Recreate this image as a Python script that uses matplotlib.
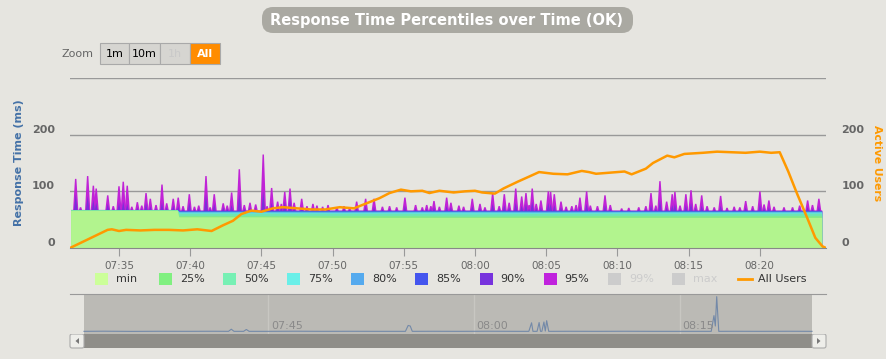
import matplotlib
matplotlib.use('Agg')
import matplotlib.pyplot as plt
from matplotlib.patches import FancyBboxPatch, Rectangle, Polygon
from matplotlib.transforms import ScaledTranslation

W, H = 887, 359
BG = '#e6e5e0'

# time axis: minutes after 07:00
t_start, t_end = 31.56, 84.65
tick_min = [35, 40, 45, 50, 55, 60, 65, 70, 75, 80]
tick_lbl = ['07:35', '07:40', '07:45', '07:50', '07:55',
            '08:00', '08:05', '08:10', '08:15', '08:20']

# percentile bands (ms)
pct_t = [31.60, 39.10, 39.20, 45.0, 50.0, 55.0, 60.0, 65.0, 70.0, 75.0, 80.0, 84.35]
p_min = [66.5, 66.5, 55, 55, 54, 54, 54, 54, 54, 54, 54, 54]
p_25 = [67, 67, 57, 57, 57, 57, 56, 57, 57, 57, 57, 57]
p_50 = [67, 67, 61, 61, 61, 61, 60, 61, 61, 61, 61, 61]
p_75 = [67.5, 67.5, 63.5, 63.5, 63, 63.5, 63.5, 63, 63.5, 63.5, 63.5, 63.5]
p_80 = [67.5, 67.5, 65, 65, 65, 65, 65, 65, 65, 65, 65, 65]
p_85 = [68, 68, 66, 66, 66, 66, 66, 66, 66, 66, 66, 66]
p_90 = [68, 68, 66.5, 66.5, 66.5, 66.5, 66.5, 66.5, 66.5, 66.5, 66.5, 66.5]
p_95 = [68, 68, 67, 67, 67, 67, 67, 67, 67, 67, 67, 67]

# spikes of the 95% / 90% series
spike_t = [31.96, 32.30, 32.80, 33.20, 33.40, 34.21, 34.60, 35.00, 35.30, 35.58,
           35.90, 36.29, 36.60, 36.90, 37.20, 37.60, 38.02, 38.35, 38.81, 39.16,
           39.50, 39.94, 40.30, 40.60, 41.11, 41.40, 41.69, 42.32, 42.60, 42.91,
           43.45, 43.80, 44.20, 44.60, 45.13, 45.40, 45.72, 46.14, 46.40, 46.64,
           47.01, 47.30, 47.83, 48.20, 48.62, 48.90, 49.30, 49.68, 50.30, 50.80,
           51.20, 51.69, 52.32, 52.91, 53.50, 54.00, 54.50, 55.08, 55.83, 56.30,
           56.61, 56.90, 57.12, 57.50, 58.01, 58.31, 58.87, 59.20, 59.81, 60.35,
           60.70, 61.24, 61.70, 62.06, 62.40, 62.86, 63.28, 63.58, 63.80, 64.02,
           64.30, 64.63, 65.15, 65.31, 65.57, 66.04, 66.40, 66.80, 67.10, 67.37,
           67.84, 68.10, 68.60, 69.13, 69.50, 70.30, 70.80, 71.50, 72.00, 72.36,
           72.70, 72.99, 73.46, 73.85, 74.04, 74.40, 74.81, 75.17, 75.50, 75.92,
           76.30, 76.80, 77.25, 77.70, 78.20, 78.60, 79.01, 79.50, 80.01, 80.30,
           80.64, 81.00, 81.70, 82.30, 82.80, 83.36, 83.70, 84.15]
spike_95 = [122, 72, 127, 110, 105, 93, 74, 109, 117, 110,
            73, 81, 75, 97, 87, 76, 112, 79, 87, 89,
            74, 95, 73, 75, 127, 72, 95, 79, 75, 98,
            139, 76, 80, 77, 165, 74, 106, 82, 78, 99,
            105, 80, 87, 74, 78, 75, 73, 76, 72, 74,
            71, 82, 87, 87, 73, 74, 72, 89, 76, 72,
            76, 74, 83, 73, 89, 80, 75, 73, 87, 78,
            72, 97, 74, 95, 80, 105, 91, 97, 76, 105,
            78, 84, 100, 99, 95, 82, 73, 74, 76, 89,
            100, 75, 74, 93, 76, 70, 71, 72, 74, 97,
            75, 118, 82, 95, 99, 75, 95, 102, 78, 93,
            74, 72, 92, 71, 73, 72, 83, 74, 100, 77,
            84, 73, 72, 72, 75, 84, 76, 87]
spike_90 = [95, 69, 92, 85, 80, 78, 70, 80, 82, 78,
            69, 72, 70, 80, 74, 70, 80, 72, 75, 74,
            70, 80, 69, 70, 95, 69, 78, 72, 70, 76,
            96, 70, 72, 71, 100, 70, 80, 75, 72, 82,
            88, 72, 74, 70, 71, 70, 69, 71, 69, 70,
            69, 72, 74, 73, 69, 70, 69, 75, 70, 69,
            70, 69, 72, 69, 74, 72, 70, 69, 74, 71,
            69, 78, 70, 76, 72, 80, 75, 78, 70, 82,
            71, 72, 80, 78, 76, 72, 69, 70, 70, 74,
            78, 70, 69, 76, 70, 68, 68, 69, 70, 76,
            70, 85, 72, 76, 78, 70, 76, 80, 71, 75,
            70, 69, 75, 68, 69, 69, 72, 70, 78, 71,
            72, 69, 69, 69, 70, 73, 70, 74]

# active users
user_t = [31.56, 34.2, 34.5, 35.0, 35.5, 36.5, 37.5, 38.5, 39.5, 40.5, 41.5,
          42.3, 43.0, 43.6, 44.3, 45.0, 45.8, 46.5, 47.5, 48.5, 49.5, 50.5,
          51.5, 52.5, 53.3, 54.0, 54.8, 55.5, 56.3, 56.8, 57.5, 58.5, 59.3,
          60.0, 60.5, 61.4, 62.0, 63.0, 63.8, 64.5, 65.5, 66.5, 67.5, 68.0,
          68.5, 69.5, 70.5, 71.0, 72.0, 72.5, 73.5, 74.0, 74.7, 76.0, 77.0,
          78.0, 79.0, 80.0, 80.8, 81.4, 82.0, 82.6, 83.3, 83.9, 84.4, 84.65]
user_v = [0, 32, 33, 30, 32, 31, 32, 32, 31, 33, 30,
          40, 48, 60, 66, 64, 70, 72, 70, 68, 68, 72,
          70, 80, 88, 97, 103, 100, 101, 97, 101, 98, 100,
          101, 98, 96, 105, 117, 126, 134, 131, 130, 136, 134,
          131, 133, 135, 130, 140, 150, 163, 160, 166, 168, 170,
          169, 168, 170, 168, 169, 135, 97, 55, 18, 3, 0]

# navigator series
nav_t = [31.56, 33, 35, 37, 39, 41, 42.1, 42.3, 42.5, 43.2, 43.4, 43.6, 45, 47,
         49, 51, 53, 55.0, 55.2, 55.35, 55.5, 57, 59, 61, 63, 64.0, 64.2, 64.3,
         64.6, 64.75, 64.85, 64.95, 65.1, 65.2, 65.3, 65.45, 67, 69, 71, 73, 75,
         77.3, 77.5, 77.6, 77.7, 77.85, 79, 81, 83, 84.65]
nav_v = [100, 105, 98, 102, 100, 103, 100, 180, 100, 100, 170, 100, 100, 104,
         100, 102, 100, 100, 320, 300, 100, 102, 100, 104, 100, 100, 420, 100,
         100, 430, 100, 100, 450, 110, 500, 100, 102, 100, 103, 100, 100,
         100, 690, 300, 1400, 100, 102, 100, 103, 100]

legend_names = ['min', '25%', '50%', '75%', '80%', '85%', '90%', '95%', '99%', 'max']
legend_cols = ['#ccff99', '#80f080', '#77f0b4', '#6aefe8', '#55aaee',
               '#4455ee', '#7733dd', '#c022dd', '#cccccc', '#cccccc']
fill_cols = ['#b2f48e', '#84ea86', '#6fe6b0', '#64e2d8', '#55a8e8',
             '#4452e0', '#7a2fd8', '#c023d6']

fig = plt.figure(figsize=(W / 100, H / 100), dpi=100, facecolor=BG)


def px(l, t, r, b):
    return [l / W, 1 - b / H, (r - l) / W, (b - t) / H]


deco = fig.add_axes([0, 0, 1, 1])
deco.set_xlim(0, W)
deco.set_ylim(H, 0)
deco.axis('off')

# title
deco.add_patch(FancyBboxPatch((262, 7), 371, 26, boxstyle='round,pad=0,rounding_size=11',
                              fc='#aaa9a2', ec='none'))
deco.text(447, 20.5, 'Response Time Percentiles over Time (OK)', color='white',
          fontsize=10.5, fontweight='bold', ha='center', va='center')

# zoom buttons
deco.text(94, 54, 'Zoom', color='#666666', fontsize=8, ha='right', va='center')
buttons = [('1m', 100, 29), ('10m', 129, 31), ('1h', 160, 30), ('All', 190, 30)]
for lbl, bx, bw in buttons:
    on = lbl == 'All'
    deco.add_patch(Rectangle((bx, 43), bw, 21, fc='#ff8c00' if on else '#d6d5d1',
                             ec='#a9a9a9', lw=0.8))
    col = 'white' if on else ('#c9c9c9' if lbl == '1h' else 'black')
    deco.text(bx + bw / 2, 54, lbl, color=col, fontsize=8,
              fontweight='bold' if on else 'normal', ha='center', va='center')

# axis titles
deco.text(19, 163, 'Response Time (ms)', rotation=90, color='#4572a7', fontsize=8,
          fontweight='bold', ha='center', va='center')
deco.text(877, 163, 'Active Users', rotation=270, color='#ff9900', fontsize=7.8,
          fontweight='bold', ha='center', va='center')

# legend
for i, (name, col) in enumerate(zip(legend_names, legend_cols)):
    sx = 95 + i * 64.1
    deco.add_patch(Rectangle((sx, 273), 13, 12, fc=col, ec='none'))
    tcol = '#cccccc' if name in ('99%', 'max') else '#333333'
    deco.text(sx + 21, 279.5, name, color=tcol, fontsize=8, va='center')
deco.plot([738, 752], [279, 279], color='#ff9900', lw=2)
deco.text(758, 279.5, 'All Users', color='#333333', fontsize=8, va='center')

# main plot
ax = fig.add_axes(px(70, 78, 826, 248))
ax.set_facecolor('none')
ax.set_xlim(t_start, t_end)
ax.set_ylim(0, 300)
for g in (100, 200, 300):
    ax.axhline(g, color='#999999', lw=1, zorder=0.5)

levels = [p_95, p_90, p_85, p_80, p_75, p_50, p_25, p_min]
for k, lev in enumerate(levels):
    ax.fill_between(pct_t, 0, lev, color=fill_cols[7 - k], lw=0, zorder=1 + k * 0.2)
    if k == 0:
        for t, v in zip(spike_t, spike_95):
            ax.fill([t - 0.2, t - 0.05, t + 0.05, t + 0.2], [60, v, v, 60],
                    color=fill_cols[7], lw=0, zorder=1.1)
    if k == 1:
        for t, v in zip(spike_t, spike_90):
            ax.fill([t - 0.15, t, t + 0.15], [60, v, 60], color=fill_cols[6], lw=0,
                    zorder=1.3)

for s in ('top', 'left', 'right'):
    ax.spines[s].set_visible(False)
ax.spines['bottom'].set_color('#888888')
ax.spines['bottom'].set_zorder(5)
ax.set_xticks(tick_min)
ax.set_xticklabels(tick_lbl)
ax.tick_params(axis='x', length=6, color='#999999', labelcolor='#666666',
               labelsize=7.5, pad=3.5)
ax.set_yticks([0, 100, 200])
ax.set_yticklabels(['0', '100', '200'])
ax.tick_params(axis='y', length=0, labelcolor='#666666', labelsize=8, pad=11)
up = ScaledTranslation(0, 0.06, fig.dpi_scale_trans)
for lab in ax.get_yticklabels():
    lab.set_fontweight('bold')
    lab.set_transform(lab.get_transform() + up)

ax2 = ax.twinx()
ax2.set_ylim(0, 300)
ax2.plot(user_t, user_v, color='#ff9900', lw=1.8, zorder=3)
for s in ('top', 'left', 'right', 'bottom'):
    ax2.spines[s].set_visible(False)
ax2.set_yticks([0, 100, 200])
ax2.set_yticklabels(['0', '100', '200'])
ax2.tick_params(axis='y', length=0, labelcolor='#666666', labelsize=8, pad=11)
for lab in ax2.get_yticklabels():
    lab.set_fontweight('bold')
    lab.set_transform(lab.get_transform() + up)

# navigator
nav = fig.add_axes(px(70, 294, 826, 334))
nav.set_facecolor(BG)
nav.set_xlim(30.54, 85.67)
nav.set_ylim(0, 1500)
nav.axvspan(t_start, t_end, color='#bbbab5', lw=0)
for g, lbl in ((45, '07:45'), (60, '08:00'), (75, '08:15')):
    nav.axvline(g, color='#c8c7c2', lw=1)
    nav.text(g + 0.2, 300, lbl, color='#8a8a8a', fontsize=8, va='center')
nav.plot(nav_t, nav_v, color='#7389a8', lw=0.8)
nav.set_xticks([])
nav.set_yticks([])
for s in ('left', 'right', 'bottom'):
    nav.spines[s].set_visible(False)
nav.spines['top'].set_color('#999999')

# navigator handles
for hx in (79, 808):
    deco.add_patch(Rectangle((hx, 306), 8, 16, fc='#f2f2f0', ec='#999999', lw=0.8,
                             zorder=5))
    deco.plot([hx + 3.2, hx + 3.2], [310, 318], color='#888888', lw=0.6, zorder=6)
    deco.plot([hx + 4.8, hx + 4.8], [310, 318], color='#888888', lw=0.6, zorder=6)

# scrollbar
deco.add_patch(Rectangle((84, 334), 728, 14, fc='#8f8e89', ec='none', zorder=5))
for bx, tri in ((70, [(79, 338), (79, 344), (75.5, 341)]),
                (812, [(817, 338), (817, 344), (820.5, 341)])):
    deco.add_patch(FancyBboxPatch((bx, 334), 14, 14, boxstyle='round,pad=0,rounding_size=2',
                                  fc='#eeeeea', ec='#aaaaaa', lw=0.8, zorder=5))
    deco.add_patch(Polygon(tri, closed=True, fc='#777777', ec='none', zorder=6))

fig.savefig('out.png', dpi=100, facecolor=BG)
